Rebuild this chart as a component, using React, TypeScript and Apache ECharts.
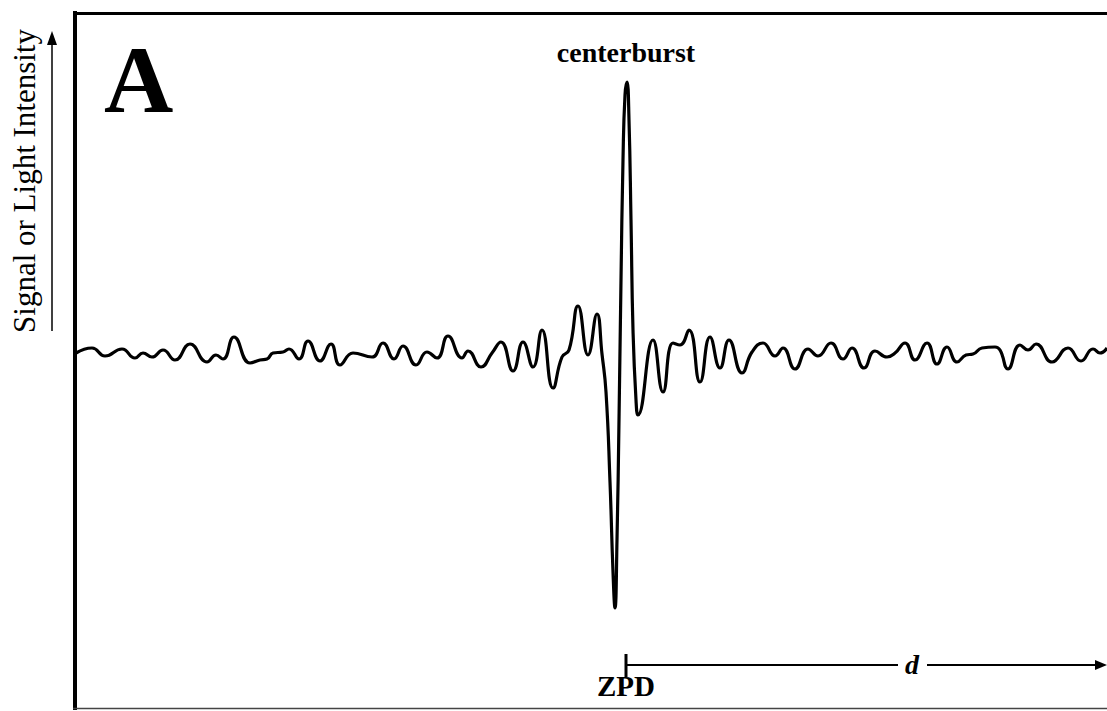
import React, { useEffect, useRef } from "react";
import * as echarts from "echarts";

// Optical path difference (arbitrary units, 0 = ZPD)
const retardation: number[] = [
  -550, -534, -521, -504, -491, -483, -474, -463, -451, -436, -419, -410, -403, -392, -376, -366, -359, -353,
  -343, -337, -327, -318, -306, -295, -286, -273, -254, -243, -232, -223, -210, -199, -189, -178, -164, -158,
  -145, -134, -125, -113, -103, -93, -84, -73, -64, -57, -48, -38, -29, -24, -20, -16, -13, -11, -9, -7, -5,
  -3, -1, 1, 3, 5, 7, 10, 12, 27, 37, 47, 54, 63, 74, 84, 94, 103, 116, 126, 137, 149, 157, 169, 182, 192,
  205, 217, 226, 238, 249, 261, 269, 279, 289, 301, 311, 321, 331, 340, 347, 356, 369, 374, 382, 394, 402,
  410, 426, 442, 455, 467, 474, 481,
];

// Detector signal (arbitrary units)
const intensity: number[] = [
  -1, 4, -4, 3, -6, -1, -5, 2, -8, 8, -10, -3, -7, 15, -11, -8, -7, -1,
  0, 3, -7, 11, -9, 8, -13, -1, -5, 9, -7, 6, -13, 0, -6, 16, -6, 1,
  -15, -1, 10, -19, 10, -15, 22, -36, -5, 2, 46, -3, 38, -2, -40, -130, -220, -256, -188, -68, 72,
  192, 257, 270, 232, 132, 22, -48, -63, 12, -40, 9, 7, 22, -30, 15, -16, 12, -21, 0, 9, -4, 4, -17, 3, -4,
  9, -7, 4, -16, 1, -5, -1, 9, -8, 9, -12, 5, -10, -3, -2, 4, 5, 2, -17, 7, 2,
  8, -10, 4, -9, 3, -1, 4,
];

const yLabel = "Signal or Light Intensity";
const panelLabel = "A";
const peakLabel = "centerburst";
const zpdLabel = "ZPD";
const distLabel = "d";

export default function App() {
  const ref = useRef<HTMLDivElement>(null);
  useEffect(() => {
    if (!ref.current) return;
    const chart = echarts.init(ref.current, null, { renderer: "svg" });
    const data = retardation.map((x, i) => [x, intensity[i]]);
    const serif = "'Liberation Serif', 'Times New Roman', serif";
    chart.setOption({
      animation: false,
      backgroundColor: "#fff",
      grid: { left: 75, right: 0, top: 14, bottom: 3 },
      xAxis: { type: "value", min: -551, max: 481, show: false },
      yAxis: { type: "value", min: -356, max: 338, show: false },
      series: [
        {
          type: "line",
          data,
          showSymbol: false,
          smooth: 0.5,
          lineStyle: { color: "#000", width: 3.2 },
          silent: true,
        },
      ],
      graphic: [
        { type: "line", shape: { x1: 75, y1: 11, x2: 75, y2: 710 }, style: { stroke: "#000", lineWidth: 4 } },
        { type: "line", shape: { x1: 73, y1: 13.5, x2: 1107, y2: 13.5 }, style: { stroke: "#000", lineWidth: 3 } },
        { type: "line", shape: { x1: 73, y1: 708.5, x2: 1107, y2: 708.5 }, style: { stroke: "#444", lineWidth: 1.5 } },
        { type: "line", shape: { x1: 52, y1: 331, x2: 52, y2: 42 }, style: { stroke: "#000", lineWidth: 1.5 } },
        { type: "polygon", shape: { points: [[47, 45], [52, 31], [57, 45]] }, style: { fill: "#000" } },
        {
          type: "text",
          x: 24,
          y: 181,
          rotation: Math.PI / 2,
          style: { text: yLabel, font: `31px ${serif}`, fill: "#000", align: "center", verticalAlign: "middle" },
        },
        {
          type: "text",
          x: 104,
          y: 127,
          style: { text: panelLabel, font: `bold 96px ${serif}`, fill: "#000", align: "left", verticalAlign: "bottom" },
        },
        {
          type: "text",
          x: 626,
          y: 52,
          style: { text: peakLabel, font: `bold 28px ${serif}`, fill: "#000", align: "center", verticalAlign: "middle" },
        },
        {
          type: "text",
          x: 626,
          y: 686,
          style: { text: zpdLabel, font: `bold 29px ${serif}`, fill: "#000", align: "center", verticalAlign: "middle" },
        },
        { type: "line", shape: { x1: 626, y1: 654, x2: 626, y2: 677 }, style: { stroke: "#000", lineWidth: 3 } },
        { type: "line", shape: { x1: 626, y1: 665, x2: 898, y2: 665 }, style: { stroke: "#000", lineWidth: 2 } },
        { type: "line", shape: { x1: 927, y1: 665, x2: 1098, y2: 665 }, style: { stroke: "#000", lineWidth: 2 } },
        { type: "polygon", shape: { points: [[1095, 660], [1107, 665], [1095, 670]] }, style: { fill: "#000" } },
        {
          type: "text",
          x: 912,
          y: 664,
          style: { text: distLabel, font: `italic bold 28px ${serif}`, fill: "#000", align: "center", verticalAlign: "middle" },
        },
      ],
    });
    return () => chart.dispose();
  }, []);
  return <div ref={ref} style={{ position: "fixed", left: 0, top: 0, width: 1107, height: 711 }} />;
}
